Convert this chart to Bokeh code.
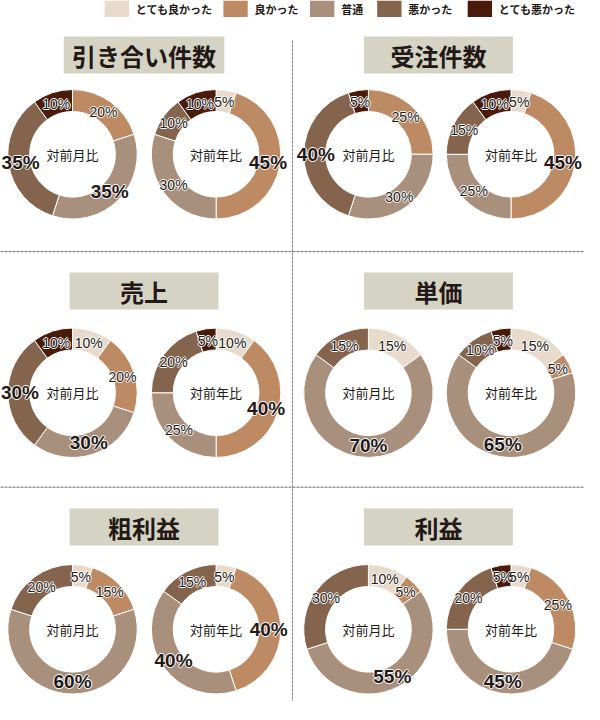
#!/usr/bin/env python3

import math

from bokeh.core.properties import value
from bokeh.embed import file_html
from bokeh.models import ColumnDataSource, Range1d
from bokeh.plotting import figure
from bokeh.resources import INLINE

categories = ["とても良かった", "良かった", "普通", "悪かった", "とても悪かった"]
colors = ["#E8DBCC", "#BD8A63", "#A8907D", "#84644C", "#4A1A0A"]

titles = ["引き合い件数", "受注件数", "売上", "単価", "粗利益", "利益"]
compareLabels = ["対前月比", "対前年比"]

# percentages per category, in the order of categories
monthValues = [
	[0, 20, 35, 35, 10],
	[0, 25, 30, 40, 5],
	[10, 20, 30, 30, 10],
	[15, 0, 70, 15, 0],
	[5, 15, 60, 20, 0],
	[10, 5, 55, 30, 0],
]
yearValues = [
	[5, 45, 30, 10, 10],
	[5, 45, 25, 15, 10],
	[10, 40, 25, 20, 5],
	[15, 5, 65, 10, 5],
	[5, 40, 40, 15, 0],
	[5, 25, 45, 20, 5],
]

pageWidth = 600
pageHeight = 720
textColor = "#231815"
jpFont = "Noto Sans CJK JP"

innerRadius = 44
outerRadius = 66.5
labelRadius = 54

donutCentersX = [[74, 221.5], [378, 524.5]]
rowCentersY = [158, 403, 646]
titleCentersX = [147.5, 450]
titleCentersY = [56, 298.5, 541]
legendLefts = [107, 229, 318, 387, 480]

haloOffsets = [(-1, 0), (1, 0), (0, -1), (0, 1)]


def Y(y):
	# picture coordinates run downwards, data coordinates upwards
	return pageHeight - y


def haloText(p, src, size, style):
	for dx, dy in haloOffsets:
		p.text(x="x", y="y", text="t", source=src, x_offset=dx, y_offset=dy, text_font=value("Liberation Sans"),
			text_font_size=size, text_font_style=style, text_color="white",
			text_align="center", text_baseline="middle")
	p.text(x="x", y="y", text="t", source=src, text_font=value("Liberation Sans"), text_font_size=size,
		text_font_style=style, text_color=textColor, text_align="center", text_baseline="middle")


def drawDonut(p, cx, cy, values, centerText):
	total = float(sum(values))
	starts, ends, fills = [], [], []
	small = dict(x=[], y=[], t=[])
	big = dict(x=[], y=[], t=[])
	top = max(values)
	cum = 0.0
	for v, c in zip(values, colors):
		if v == 0:
			continue
		a0 = math.pi / 2 - 2 * math.pi * cum / total
		a1 = math.pi / 2 - 2 * math.pi * (cum + v) / total
		mid = math.pi / 2 - 2 * math.pi * (cum + v / 2.0) / total
		starts.append(a0)
		ends.append(a1)
		fills.append(c)
		target = big if v == top else small
		target["x"].append(cx + labelRadius * math.cos(mid))
		target["y"].append(Y(cy) + labelRadius * math.sin(mid))
		target["t"].append(f"{v}%")
		cum += v

	src = ColumnDataSource(dict(start=starts, end=ends, color=fills))
	p.annular_wedge(x=cx, y=Y(cy), inner_radius=innerRadius, outer_radius=outerRadius,
		start_angle="start", end_angle="end", direction="clock", source=src,
		fill_color="color", line_color="white", line_width=1)

	haloText(p, ColumnDataSource(small), "14px", "normal")
	haloText(p, ColumnDataSource(big), "19px", "bold")

	p.text(x=[cx], y=[Y(cy)], text=[centerText], text_font=value(jpFont), text_font_size="13px",
		text_color=textColor, text_align="center", text_baseline="middle")


def main():
	plotWidth = 584
	plotHeight = 704
	ySpan = pageWidth * plotHeight / plotWidth

	p = figure(width=plotWidth, height=plotHeight, output_backend="svg", toolbar_location=None,
		x_range=Range1d(0, pageWidth), y_range=Range1d(pageHeight - ySpan, pageHeight),
		min_border=0)
	p.axis.visible = False
	p.grid.visible = False
	p.outline_line_color = None
	p.background_fill_color = "white"

	# dividers
	p.segment(x0=[300], y0=[Y(41)], x1=[300], y1=[Y(720)], line_color="#8A8A8A", line_width=1, line_dash="3 1")
	p.segment(x0=[0, 0], y0=[Y(258), Y(500)], x1=[600, 600], y1=[Y(258), Y(500)],
		line_color="#666666", line_width=1, line_dash="3 1")

	# legend
	p.quad(left=legendLefts, right=[l + 25 for l in legendLefts], top=[Y(0)] * 5, bottom=[Y(17)] * 5,
		fill_color=colors, line_color=None)
	p.text(x=[l + 32 for l in legendLefts], y=[Y(9)] * 5, text=categories, text_font=value(jpFont),
		text_font_size="11px", text_font_style="bold", text_color=textColor, text_baseline="middle")

	for i, title in enumerate(titles):
		col = i % 2
		row = i // 2
		boxWidth = max(153, 24 * len(title) + 21)
		tx = titleCentersX[col]
		ty = titleCentersY[row]
		p.rect(x=[tx], y=[Y(ty)], width=boxWidth, height=38, fill_color="#D5D3C4", line_color=None)
		p.text(x=[tx], y=[Y(ty)], text=[title], text_font=value(jpFont), text_font_size="24px",
			text_font_style="bold", text_color=textColor, text_align="center", text_baseline="middle")

		drawDonut(p, donutCentersX[col][0], rowCentersY[row], monthValues[i], compareLabels[0])
		drawDonut(p, donutCentersX[col][1], rowCentersY[row], yearValues[i], compareLabels[1])

	open("out.html", "w").write(file_html(p, INLINE))


if __name__ == "__main__":
	main()
